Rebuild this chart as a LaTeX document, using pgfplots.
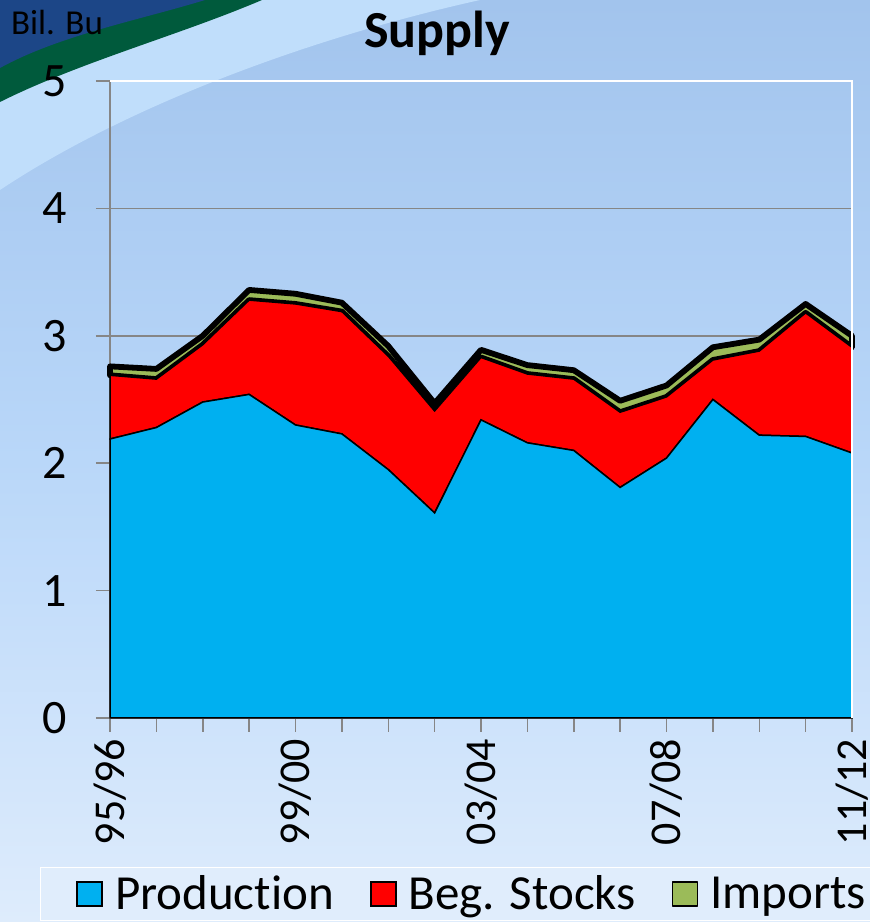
\documentclass[border=0pt]{standalone}
\usepackage{pgfplots}
\pgfplotsset{compat=1.18}
\usepackage{fontspec}
\setmainfont{Carlito}[Ligatures=NoCommon]
\definecolor{prod}{RGB}{0,176,240}
\definecolor{stk}{RGB}{255,0,0}
\definecolor{imp}{RGB}{155,187,89}
\definecolor{gridg}{RGB}{134,134,134}
\definecolor{bgtop}{RGB}{162,196,237}
\definecolor{bgmid}{RGB}{185,215,249}
\definecolor{bgbot}{RGB}{222,236,252}
\definecolor{swblue}{RGB}{28,70,135}
\definecolor{swgreen}{RGB}{0,90,60}
\definecolor{lightband}{RGB}{192,222,251}
\definecolor{legbg}{RGB}{224,237,252}

\pgfplotstableread{
x prod stocks imports
0  2.19 0.50 0.07
1  2.28 0.38 0.08
2  2.48 0.45 0.07
3  2.54 0.74 0.08
4  2.30 0.95 0.08
5  2.23 0.96 0.07
6  1.95 0.89 0.08
7  1.61 0.80 0.06
8  2.34 0.49 0.06
9  2.16 0.54 0.07
10 2.10 0.56 0.07
11 1.81 0.59 0.09
12 2.04 0.48 0.09
13 2.50 0.31 0.10
14 2.22 0.66 0.09
15 2.21 0.97 0.07
16 2.08 0.83 0.09
}\supply

\begin{document}
\begin{tikzpicture}
\useasboundingbox (0,0) rectangle (435pt,461pt);
\shade[top color=bgtop, bottom color=bgbot, middle color=bgmid] (0,0) rectangle (435pt,461pt);
\begin{scope}[x=0.5pt,y=-0.5pt,shift={(0,461pt)}]
  \fill[lightband] (0,0) -- (480,0) .. controls (300,40) and (120,110) .. (0,190) -- cycle;
  \fill[swgreen] (0,0) -- (262,0) .. controls (180,35) and (80,62) .. (0,102) -- cycle;
  \fill[swblue] (0,0) -- (205,0) .. controls (140,20) and (60,35) .. (0,68) -- cycle;
  \node[font=\fontsize{17.5}{20}\selectfont] at (57,22) {Bil. Bu};
  \node[font=\fontsize{26}{30}\selectfont\bfseries] at (437,33) {Supply};
\end{scope}
\begin{axis}[
  at={(55pt,102pt)}, anchor=south west,
  scale only axis, width=371pt, height=318.5pt,
  xmin=0, xmax=16, ymin=0, ymax=5,
  stack plots=y,
  clip=false,
  axis x line*=bottom, axis y line*=left,
  axis line style={gridg, line width=0.75pt},
  ytick={0,1,2,3,4,5},
  xtick={0,...,16},
  xticklabels={95/96,,,,99/00,,,,03/04,,,,07/08,,,,11/12},
  ymajorgrids, grid style={gridg, line width=0.75pt},
  tick align=outside, major tick length=7pt,
  tick style={gridg, line width=0.75pt},
  xticklabel style={font=\fontsize{22}{26}\selectfont, rotate=90, anchor=east},
  yticklabel style={font=\fontsize{24}{28}\selectfont, xshift=-11pt},
  /pgf/number format/assume math mode=true,
  legend columns=3,
  legend style={at={(-0.0943,-0.234)}, anchor=north west, draw=white, fill=legbg,
    font=\fontsize{24.5}{28}\selectfont, inner xsep=18pt, inner ysep=2pt,
    /tikz/every odd column/.append style={column sep=4pt},
    /tikz/every even column/.append style={column sep=16pt}},
  legend image code/.code={\draw[#1, line width=0.8pt] (0pt,-6pt) rectangle (12.5pt,6pt);},
]
\draw[white, line width=0.75pt] (rel axis cs:0,1) -- (rel axis cs:1,1) -- (rel axis cs:1,0);
\addplot[fill=prod, draw=black, line width=0.75pt] table[x=x, y=prod] {\supply} \closedcycle;
\addlegendentry{Production}
\addplot[fill=stk, draw=black, line width=0.75pt] table[x=x, y=stocks] {\supply} \closedcycle;
\addlegendentry{Beg. Stocks}
\addplot[fill=imp, draw=black, line width=2.9pt, line join=round, legend image post style={line width=1.6pt}] table[x=x, y=imports] {\supply} \closedcycle;
\addlegendentry{Imports}
\end{axis}
\end{tikzpicture}
\end{document}
